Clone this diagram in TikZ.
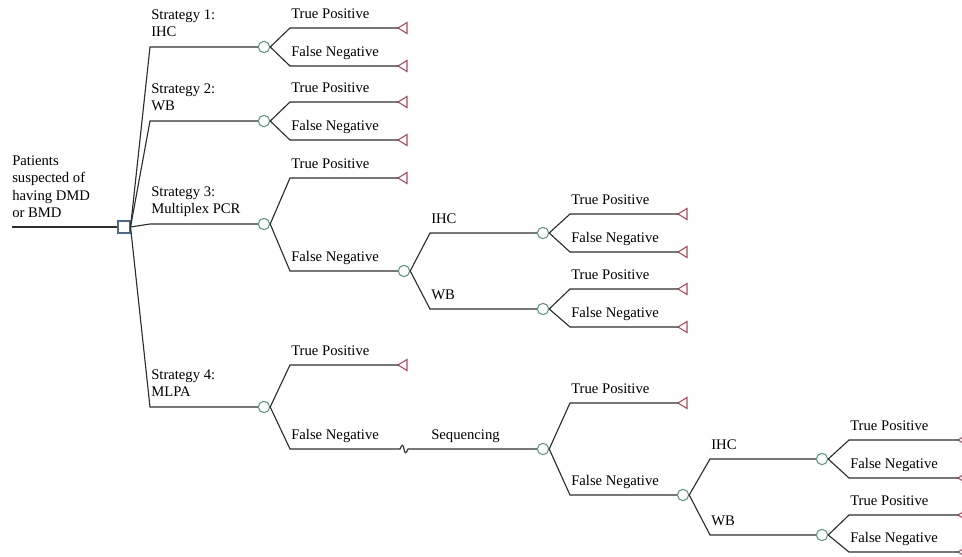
\documentclass[tikz,border=0pt]{standalone}
\usepackage{fontspec}
\setmainfont{Liberation Serif}
\definecolor{linecol}{HTML}{2E2E2E}
\definecolor{chancecol}{HTML}{5A9A80}
\definecolor{termcol}{HTML}{B0485A}
\definecolor{deccol}{HTML}{4A6A8A}
\tikzset{
  conn/.style={draw=linecol, line width=0.85pt},
  chance/.style={circle, draw=chancecol, line width=0.8pt, fill=white, minimum size=8.5pt, inner sep=0pt},
  decision/.style={rectangle, draw=deccol, line width=0.8pt, fill=white, minimum size=9pt, inner sep=0pt},
  lbl/.style={anchor=south west, inner sep=0pt, text depth=0pt, align=left, font=\fontsize{11}{13.1}\selectfont, text=black},
  pics/term/.style={code={\draw[termcol, line width=0.8pt] (0,0) -- (9,-5.5) -- (9,5.5) -- cycle;}}
}
\begin{document}
\begin{tikzpicture}[x=0.75pt,y=-0.75pt]
\useasboundingbox (0,0) rectangle (962,556);
% nodes
\coordinate (start) at (12,227);
\node[decision] (D) at (124,227) {};
\node[chance] (C1) at (264,47) {};
\node[chance] (C2) at (264,121) {};
\node[chance] (C3) at (264,224) {};
\node[chance] (C4) at (264,407) {};
\node[chance] (C3b) at (404,271) {};
\node[chance] (C5) at (543,233) {};
\node[chance] (C6) at (543,309) {};
\node[chance] (C7) at (543,449) {};
\node[chance] (C8) at (683,495) {};
\node[chance] (C9) at (822,459) {};
\node[chance] (C10) at (822,535) {};
% terminals
\foreach \n/\x/\y in {t1/398/28, t2/398/66, t3/398/102, t4/398/140, t5/398/178, t6/398/365,
  t7/678/214, t8/678/252, t9/678/289, t10/678/327, t11/678/403,
  t12/958/440, t13/958/478, t14/958/515, t15/958/552}{
  \coordinate (\n) at (\x,\y);
  \pic at (\n) {term};
}
% connectors
\draw[conn] (start) -- (D);
\draw[conn] (D.east) -- (150,47) -- (C1);
\draw[conn] (D.east) -- (150,121) -- (C2);
\draw[conn] (D.east) -- (150,224) -- (C3);
\draw[conn] (D.east) -- (150,407) -- (C4);
\draw[conn] (C1.east) -- (290,28) -- (t1);
\draw[conn] (C1.east) -- (290,66) -- (t2);
\draw[conn] (C2.east) -- (290,102) -- (t3);
\draw[conn] (C2.east) -- (290,140) -- (t4);
\draw[conn] (C3.east) -- (290,178) -- (t5);
\draw[conn] (C3.east) -- (290,271) -- (C3b);
\draw[conn] (C3b.east) -- (430,233) -- (C5);
\draw[conn] (C3b.east) -- (430,309) -- (C6);
\draw[conn] (C5.east) -- (570,214) -- (t7);
\draw[conn] (C5.east) -- (570,252) -- (t8);
\draw[conn] (C6.east) -- (570,289) -- (t9);
\draw[conn] (C6.east) -- (570,327) -- (t10);
\draw[conn] (C4.east) -- (290,365) -- (t6);
\draw[conn] (C4.east) -- (290,449) -- (400,449) .. controls (402,444) and (403,444) .. (404,449) .. controls (405,454) and (406,454) .. (408,449) -- (C7);
\draw[conn] (C7.east) -- (570,403) -- (t11);
\draw[conn] (C7.east) -- (570,495) -- (C8);
\draw[conn] (C8.east) -- (710,459) -- (C9);
\draw[conn] (C8.east) -- (710,535) -- (C10);
\draw[conn] (C9.east) -- (849,440) -- (t12);
\draw[conn] (C9.east) -- (849,478) -- (t13);
\draw[conn] (C10.east) -- (849,515) -- (t14);
\draw[conn] (C10.east) -- (849,552) -- (t15);
% labels
\node[lbl] (l0) at (12,218) {Patients\\suspected of\\having DMD\\or BMD};
\node[lbl] (s1) at (151,37) {Strategy 1:\\IHC};
\node[lbl] (s2) at (151,111) {Strategy 2:\\WB};
\node[lbl] (s3) at (151,214) {Strategy 3:\\Multiplex PCR};
\node[lbl] (s4) at (151,397) {Strategy 4:\\MLPA};
\foreach \n/\x/\y/\t in {a1/291/28/True Positive, a2/291/66/False Negative,
  a3/291/102/True Positive, a4/291/140/False Negative,
  a5/291/178/True Positive, a6/291/271/False Negative,
  a7/431/233/IHC, a8/431/309/WB,
  a9/571/214/True Positive, a10/571/252/False Negative,
  a11/571/289/True Positive, a12/571/327/False Negative,
  a13/291/365/True Positive, a14/291/449/False Negative,
  a15/431/449/Sequencing,
  a16/571/403/True Positive, a17/571/495/False Negative,
  a18/711/459/IHC, a19/711/535/WB,
  a20/850/440/True Positive, a21/850/478/False Negative,
  a22/850/515/True Positive, a23/850/552/False Negative}{
  \node[lbl] (\n) at (\x,\y-9) {\t};
}
\end{tikzpicture}
\end{document}
